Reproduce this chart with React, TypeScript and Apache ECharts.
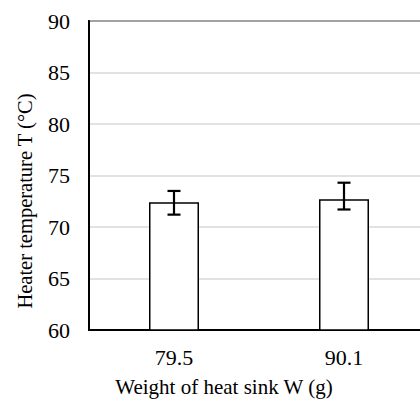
import React, { useEffect, useRef } from "react";
import * as echarts from "echarts";

const categories = ["79.5", "90.1"];
const meanValues = [72.4, 72.7];
const lowValues = [71.2, 71.7];
const highValues = [73.5, 74.3];
const yTicks = { min: 60, max: 90, interval: 5 };
const xTitle = "Weight of heat sink W (g)";
const yTitle = "Heater temperature T (°C)";

const FONT = "Liberation Serif";

const labelStyle = {
  color: "#000000",
  fontSize: 22,
  fontFamily: FONT,
};

export default function App() {
  const ref = useRef<HTMLDivElement>(null);
  useEffect(() => {
    if (!ref.current) return;
    const chart = echarts.init(ref.current, null, { renderer: "svg" });
    const errData = categories.map((_, i) => [i, lowValues[i], highValues[i]]);
    chart.setOption({
      animation: false,
      backgroundColor: "#ffffff",
      textStyle: { fontFamily: FONT },
      grid: {
        left: 89,
        top: 21,
        width: 340,
        height: 309,
        outerBoundsMode: "none",
        containLabel: false,
        show: true,
        borderColor: "#000000",
        borderWidth: 2,
        backgroundColor: "transparent",
      },
      xAxis: {
        type: "category",
        data: categories,
        axisLine: { show: true, lineStyle: { color: "#000000", width: 2 } },
        axisTick: { show: false },
        axisLabel: {
          ...labelStyle,
          margin: 16,
          formatter: "{a|{value}}",
          rich: { a: { ...labelStyle } },
        },
        splitLine: { show: false },
      },
      yAxis: {
        type: "value",
        min: yTicks.min,
        max: yTicks.max,
        interval: yTicks.interval,
        axisLine: { show: true, lineStyle: { color: "#000000", width: 2 } },
        axisTick: { show: false },
        axisLabel: {
          ...labelStyle,
          margin: 19,
          formatter: "{a|{value}}",
          rich: { a: { ...labelStyle } },
        },
        splitLine: { show: true, lineStyle: { color: "#d9d9d9", width: 1.5 } },
      },
      series: [
        {
          type: "bar",
          data: meanValues,
          barWidth: 50,
          itemStyle: { color: "#ffffff", borderColor: "#000000", borderWidth: 1.5 },
          z: 2,
        },
        {
          type: "custom",
          data: errData,
          z: 3,
          renderItem: (params: any, api: any) => {
            const x = api.value(0);
            const lo = api.coord([x, api.value(1)]);
            const hi = api.coord([x, api.value(2)]);
            const half = 6.5;
            const style = { stroke: "#000000", lineWidth: 2.2 };
            return {
              type: "group",
              children: [
                { type: "line", shape: { x1: lo[0], y1: lo[1], x2: hi[0], y2: hi[1] }, style },
                { type: "line", shape: { x1: hi[0] - half, y1: hi[1], x2: hi[0] + half, y2: hi[1] }, style },
                { type: "line", shape: { x1: lo[0] - half, y1: lo[1], x2: lo[0] + half, y2: lo[1] }, style },
              ],
            };
          },
        },
      ],
      graphic: [
        {
          type: "text",
          x: 224,
          y: 387,
          style: {
            text: xTitle,
            fontSize: 21,
            fontFamily: FONT,
            fill: "#000000",
            align: "center",
            verticalAlign: "middle",
          },
        },
        {
          type: "text",
          x: 25,
          y: 201,
          rotation: Math.PI / 2,
          style: {
            text: yTitle,
            fontSize: 20.5,
            fontFamily: FONT,
            fill: "#000000",
            align: "center",
            verticalAlign: "middle",
          },
        },
      ],
    });
    return () => chart.dispose();
  }, []);
  return <div ref={ref} style={{ width: 420, height: 408, position: "absolute", left: 0, top: 0 }} />;
}
